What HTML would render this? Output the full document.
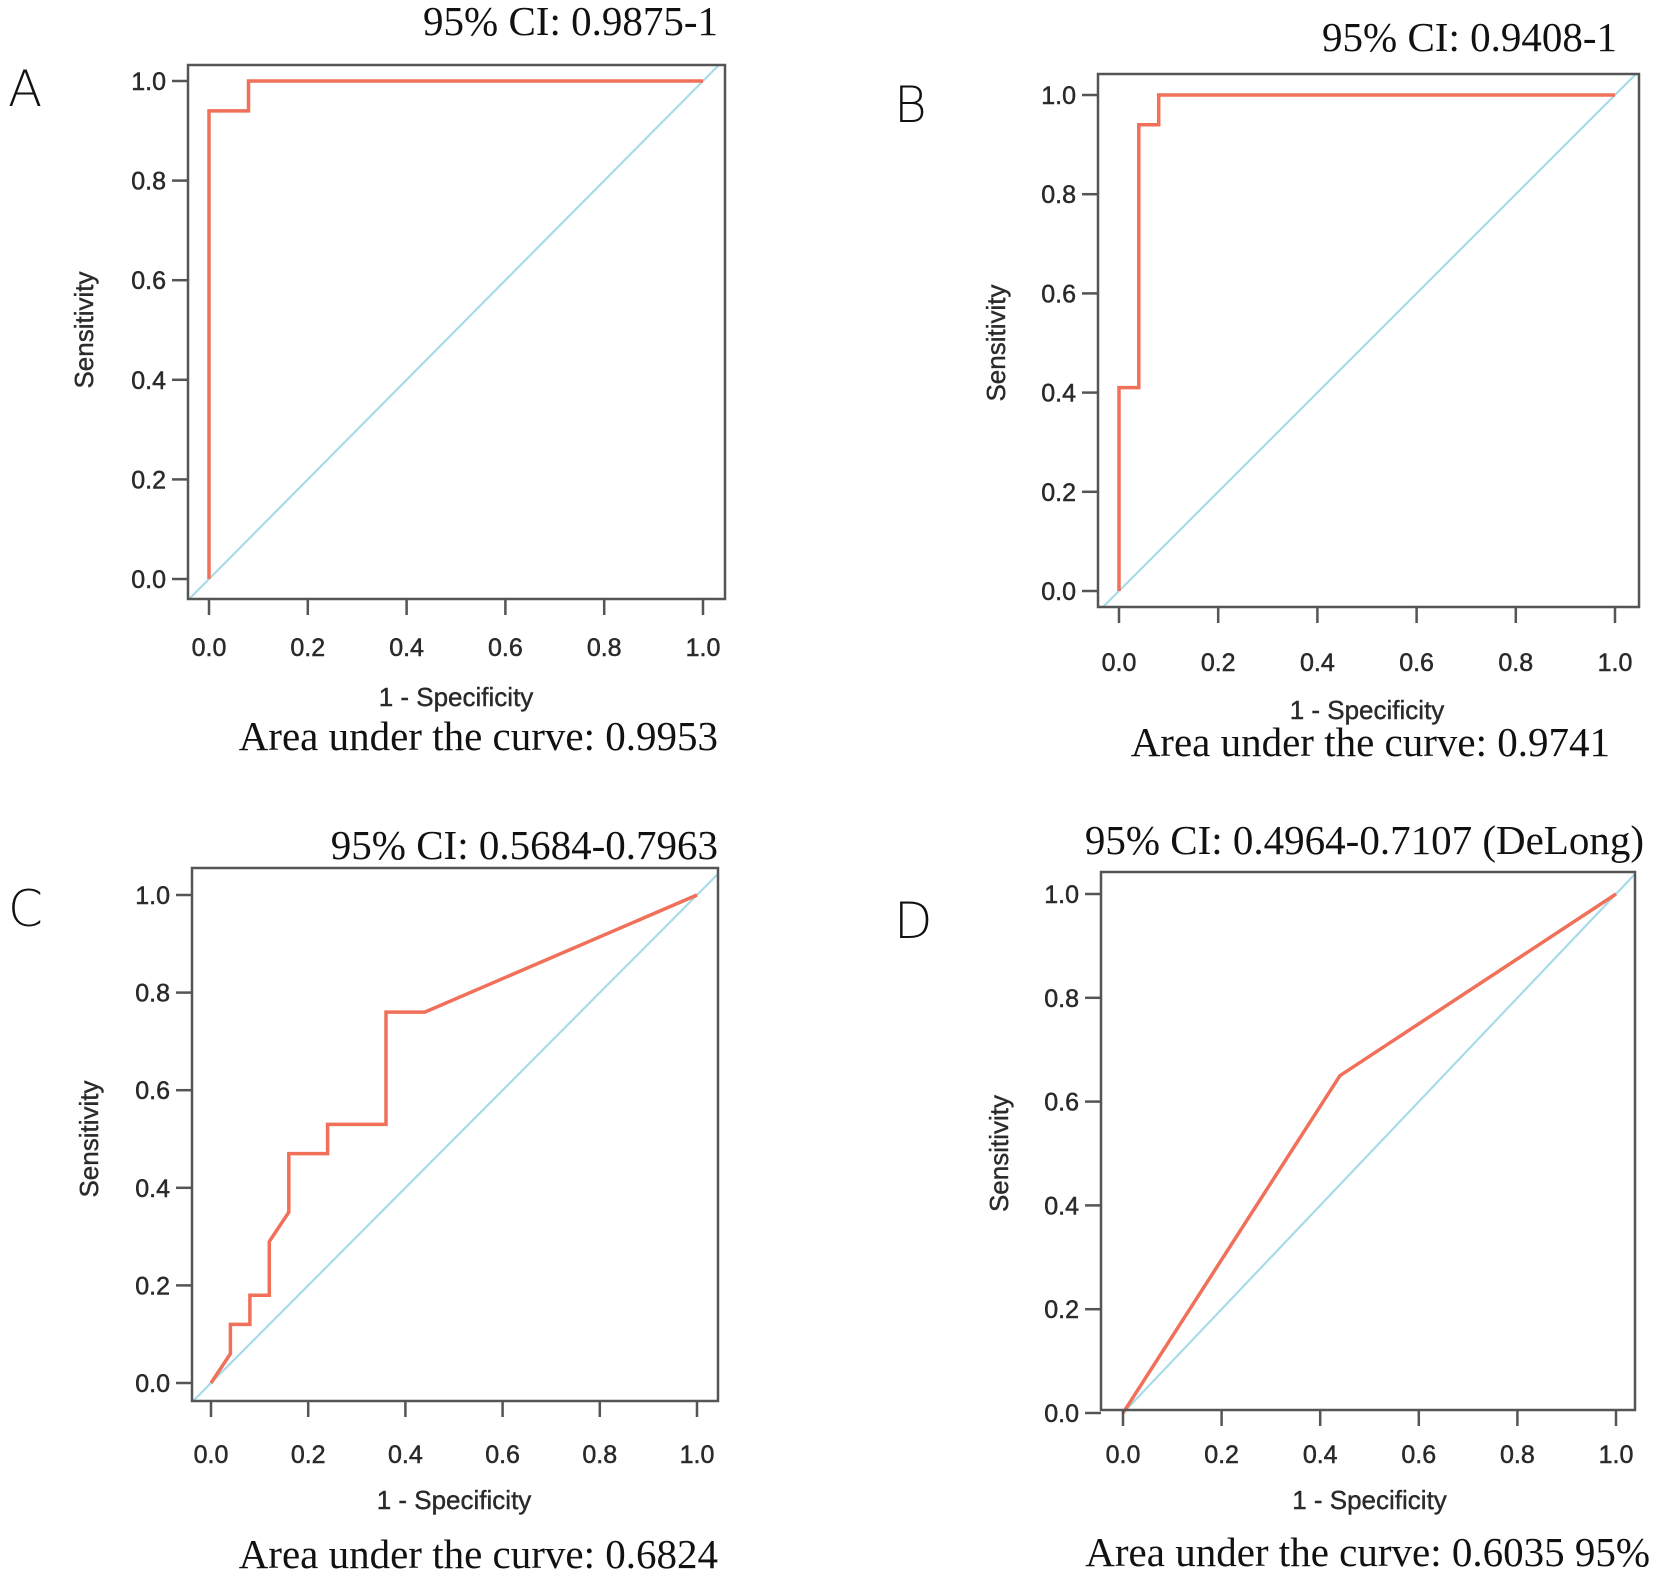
<!DOCTYPE html>
<html><head><meta charset="utf-8"><style>
html,body{margin:0;padding:0;background:#fff;}
svg{display:block;}
.tick{font-family:"Liberation Sans",sans-serif;font-size:25px;fill:#2a2a2a;stroke:#2a2a2a;stroke-width:0.5px;}
.axl{font-family:"Liberation Sans",sans-serif;font-size:26px;fill:#2a2a2a;stroke:#2a2a2a;stroke-width:0.4px;}
.big{font-family:"Liberation Serif",serif;font-size:41px;fill:#111;}
.let{font-family:"DejaVu Sans",sans-serif;font-size:50px;font-weight:300;fill:#111;}
</style></head><body>
<svg id="fig" width="1654" height="1575" viewBox="0 0 1654 1575" xmlns="http://www.w3.org/2000/svg"></svg>
<script>
const tickValues = [0, 0.2, 0.4, 0.6, 0.8, 1.0];
const tickLabels = ["0.0","0.2","0.4","0.6","0.8","1.0"];
const panelLetters = ["A","B","C","D"];
const ciLabels = ["95% CI: 0.9875-1","95% CI: 0.9408-1","95% CI: 0.5684-0.7963","95% CI: 0.4964-0.7107 (DeLong)"];
const aucLabels = ["Area under the curve: 0.9953","Area under the curve: 0.9741","Area under the curve: 0.6824","Area under the curve: 0.6035 95%"];
const fprA = [0, 0, 0.08, 0.08, 1];
const tprA = [0, 0.94, 0.94, 1, 1];
const fprB = [0, 0, 0.04, 0.04, 0.08, 0.08, 1];
const tprB = [0, 0.41, 0.41, 0.94, 0.94, 1, 1];
const fprC = [0, 0.04, 0.04, 0.08, 0.08, 0.12, 0.12, 0.16, 0.16, 0.24, 0.24, 0.36, 0.36, 0.44, 1];
const tprC = [0, 0.06, 0.12, 0.12, 0.18, 0.18, 0.29, 0.35, 0.47, 0.47, 0.53, 0.53, 0.76, 0.76, 1];
const fprD = [0, 0.44, 1];
const tprD = [0, 0.65, 1];

const layouts = [
 {bx0:188,bx1:725,by0:65,by1:599, x0:209,x1:703, y1:81,y0:579, tickY:656, axY:706, ciY:35, aucY:750, ciX:718, aucX:718, letX:8, letY:106, sensX:93},
 {bx0:1098,bx1:1639,by0:74,by1:607, x0:1119,x1:1615, y1:95,y0:591, tickY:671, axY:719, ciY:51, aucY:756, ciX:1617, aucX:1610, letX:894, letY:122, sensX:1005},
 {bx0:192,bx1:718,by0:868,by1:1401, x0:211,x1:697, y1:895,y0:1383, tickY:1463, axY:1509, ciY:859, aucY:1568, ciX:718, aucX:718, letX:8, letY:926, sensX:98},
 {bx0:1101,bx1:1635,by0:872,by1:1410, x0:1123,x1:1616, y1:894,y0:1413, tickY:1463, axY:1509, ciY:854, aucY:1566, ciX:1644, aucX:1650, letX:894, letY:938, sensX:1008}
];
const series = [[fprA,tprA],[fprB,tprB],[fprC,tprC],[fprD,tprD]];
const NS = "http://www.w3.org/2000/svg";
const svg = document.getElementById('fig');
function mk(tag, attrs, parent){const e=document.createElementNS(NS,tag);for(const k in attrs)e.setAttribute(k,attrs[k]);(parent||svg).appendChild(e);return e;}

layouts.forEach((L,i)=>{
  const g = mk('g',{});
  
  
  const sx = v => L.x0 + v*(L.x1-L.x0);
  const sy = v => L.y0 - v*(L.y0-L.y1);
  const clip = mk('clipPath',{id:'clip'+i},g);
  mk('rect',{x:L.bx0,y:L.by0,width:L.bx1-L.bx0,height:L.by1-L.by0},clip);
  const diag = mk('line',{x1:sx(-0.1),y1:sy(-0.1),x2:sx(1.1),y2:sy(1.1),stroke:'#a8dbe8','stroke-width':2.2,'clip-path':'url(#clip'+i+')'},g);
  
  
  const [fx,ty] = series[i];
  const pts = fx.map((v,k)=>sx(v).toFixed(1)+','+sy(ty[k]).toFixed(1)).join(' ');
  const curve = mk('polyline',{points:pts,fill:'none',stroke:'#f0705a','stroke-width':3.5,'stroke-linejoin':'miter'},g);
  
  
  const box = mk('rect',{x:L.bx0,y:L.by0,width:L.bx1-L.bx0,height:L.by1-L.by0,fill:'none',stroke:'#555','stroke-width':2.5},g);
  
  
  tickValues.forEach((t,k)=>{
    mk('line',{x1:sx(t),y1:L.by1,x2:sx(t),y2:L.by1+16,stroke:'#555','stroke-width':2.5},g);
    const xl = mk('text',{x:sx(t),y:L.tickY,'text-anchor':'middle',class:'tick'},g);
    xl.textContent = tickLabels[k];
    
    
    mk('line',{x1:L.bx0,y1:sy(t),x2:L.bx0-16,y2:sy(t),stroke:'#555','stroke-width':2.5},g);
    const yl = mk('text',{x:L.bx0-22,y:sy(t)+9,'text-anchor':'end',class:'tick'},g);
    yl.textContent = tickLabels[k];
    
    
  });
  const xa = mk('text',{x:(L.x0+L.x1)/2,y:L.axY,'text-anchor':'middle',class:'axl'},g);
  xa.textContent='1 - Specificity';
  
  
  const cy=(L.y0+L.y1)/2;
  const ya = mk('text',{x:L.sensX,y:cy,'text-anchor':'middle',class:'axl',transform:'rotate(-90 '+L.sensX+' '+cy+')'},g);
  ya.textContent='Sensitivity';
  
  
  const ci = mk('text',{x:L.ciX,y:L.ciY,'text-anchor':'end',class:'big'},g);
  ci.textContent=ciLabels[i];
  
  
  const au = mk('text',{x:L.aucX,y:L.aucY,'text-anchor':'end',class:'big'},g);
  au.textContent=aucLabels[i];
  
  
  const lt = mk('text',{x:L.letX,y:L.letY,class:'let'},g);
  lt.textContent=panelLetters[i];
  
  
});
</script>
</body></html>
